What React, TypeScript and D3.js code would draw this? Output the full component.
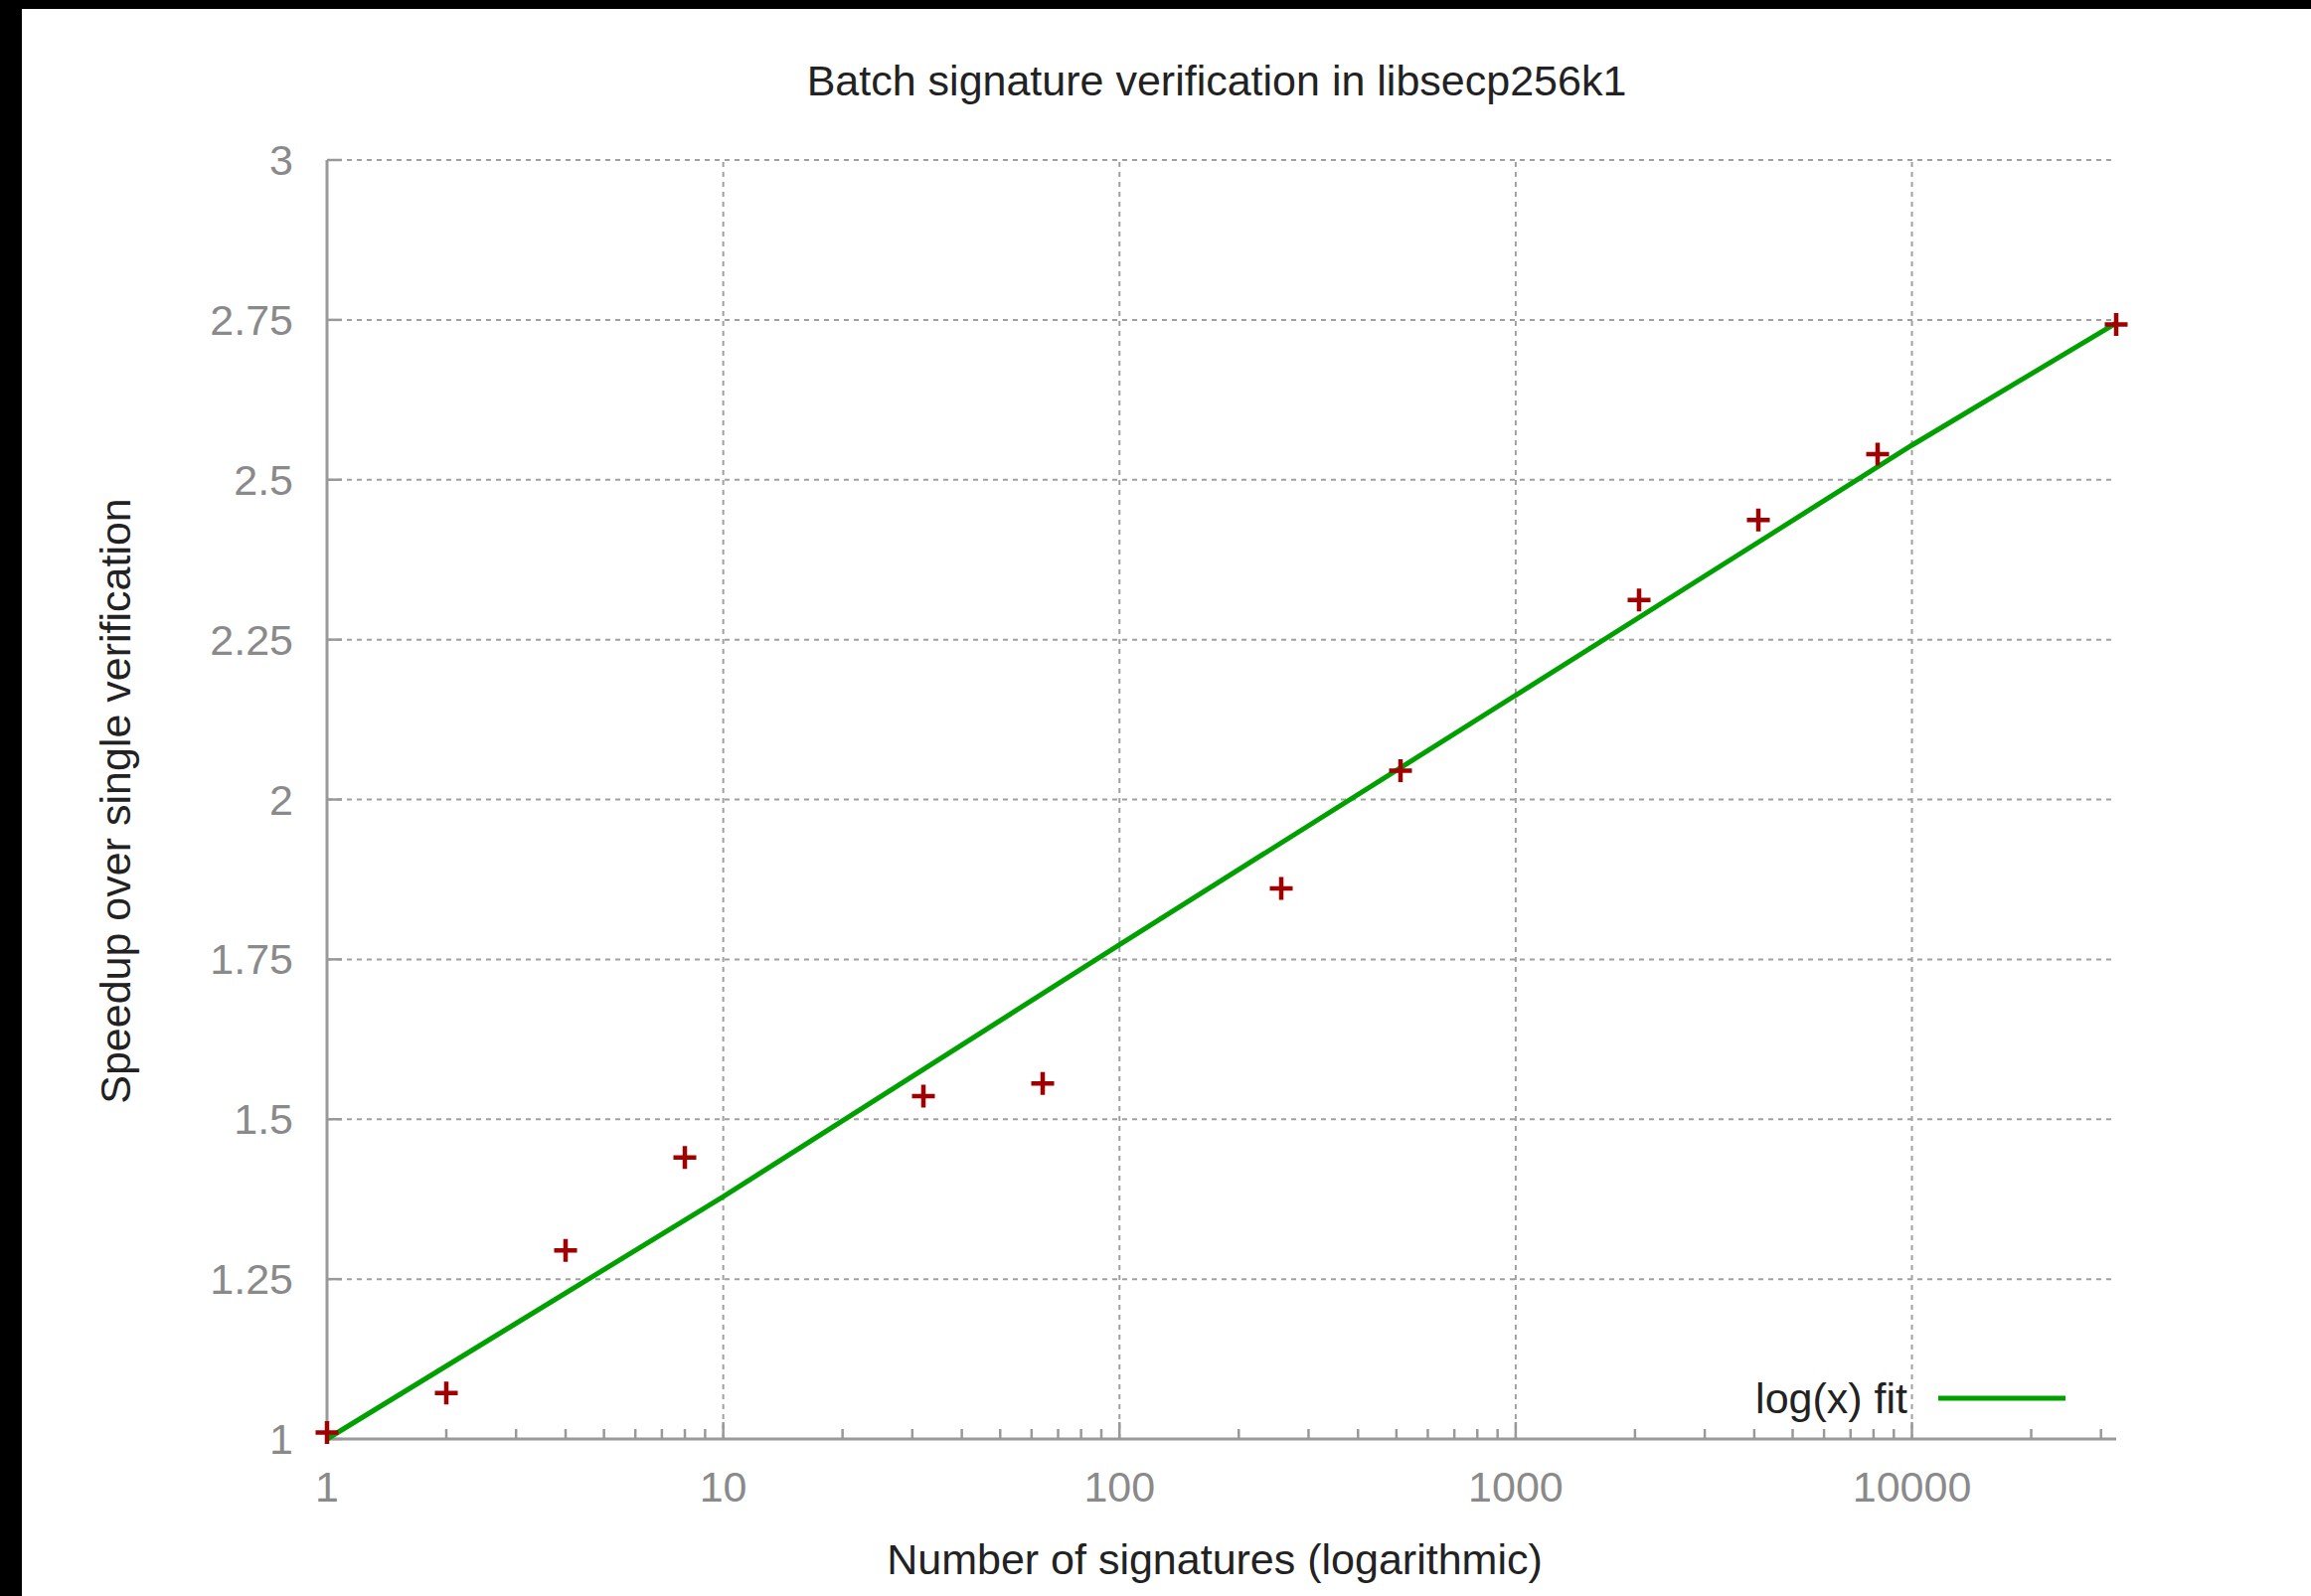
import React, { useEffect, useRef } from 'react';
import * as d3 from 'd3';

// measured points (number of signatures per batch -> speedup)
const batchSizes = [1, 2, 4, 8, 32, 64, 256, 512, 2048, 4096, 8192, 32768];
const speedups = [1.01, 1.072, 1.295, 1.44, 1.536, 1.556, 1.861, 2.045, 2.312, 2.437, 2.54, 2.743];

// log(x) fit at a few x positions
const fitSizes = [1, 10, 100, 1000, 10000, 32768];
const fitValues = [1.0, 1.379, 1.773, 2.163, 2.554, 2.745];

const xTickValues = [1, 10, 100, 1000, 10000];
const yTickValues = [1, 1.25, 1.5, 1.75, 2, 2.25, 2.5, 2.75, 3];

const W = 2325;
const H = 1606;
const FONT = '"Liberation Sans", Arial, sans-serif';

function App() {
  const ref = useRef<SVGSVGElement>(null);

  useEffect(() => {
    const svg = d3.select(ref.current);
    svg.selectAll('*').remove();

    const left = 329, right = 2129, top = 161, bottom = 1448;

    const x = d3.scaleLog().domain([1, 32768]).range([left, right]);
    const y = d3.scaleLinear().domain([1, 3]).range([bottom, top]);

    svg.append('rect').attr('width', W).attr('height', H).attr('fill', '#fff');
    // black frame on top and left edges of the screenshot
    svg.append('rect').attr('width', W).attr('height', 9).attr('fill', '#000');
    svg.append('rect').attr('width', 22).attr('height', H).attr('fill', '#000');

    const grid = svg.append('g')
      .attr('stroke', '#a0a0a0')
      .attr('stroke-width', 2)
      .attr('stroke-dasharray', '5,5');

    grid.selectAll('.hgrid')
      .data(yTickValues.filter((d) => d !== 1))
      .enter().append('line')
      .attr('x1', left).attr('x2', right)
      .attr('y1', (d) => y(d)).attr('y2', (d) => y(d));

    grid.selectAll('.vgrid')
      .data(xTickValues.filter((d) => d !== 1))
      .enter().append('line')
      .attr('x1', (d) => x(d)).attr('x2', (d) => x(d))
      .attr('y1', bottom).attr('y2', top);

    const axes = svg.append('g').attr('stroke', '#999').attr('stroke-width', 3);
    axes.append('line').attr('x1', left).attr('x2', right).attr('y1', bottom).attr('y2', bottom);
    axes.append('line').attr('x1', left).attr('x2', left).attr('y1', bottom).attr('y2', top);

    // y major ticks
    axes.selectAll('.ytick')
      .data(yTickValues)
      .enter().append('line')
      .attr('stroke-width', 2.5)
      .attr('x1', left).attr('x2', left + 15)
      .attr('y1', (d) => y(d)).attr('y2', (d) => y(d));

    // x major and minor ticks
    const minor = x.ticks().filter((d) => !xTickValues.includes(d));
    axes.selectAll('.xminor')
      .data(minor)
      .enter().append('line')
      .attr('stroke-width', 2.5)
      .attr('x1', (d) => x(d)).attr('x2', (d) => x(d))
      .attr('y1', bottom).attr('y2', bottom - 10);
    axes.selectAll('.xmajor')
      .data(xTickValues)
      .enter().append('line')
      .attr('stroke-width', 2.5)
      .attr('x1', (d) => x(d)).attr('x2', (d) => x(d))
      .attr('y1', bottom).attr('y2', bottom - 17);

    const labels = svg.append('g')
      .attr('font-family', FONT)
      .attr('font-size', 43)
      .attr('fill', '#8a8a8a');

    labels.selectAll('.ylab')
      .data(yTickValues)
      .enter().append('text')
      .attr('x', 295)
      .attr('y', (d) => y(d))
      .attr('dy', '0.35em')
      .attr('text-anchor', 'end')
      .text((d) => String(d));

    labels.selectAll('.xlab')
      .data(xTickValues)
      .enter().append('text')
      .attr('x', (d) => x(d))
      .attr('y', 1496)
      .attr('dy', '0.35em')
      .attr('text-anchor', 'middle')
      .text((d) => String(d));

    // fit line
    const line = d3.line<number>()
      .x((d, i) => x(fitSizes[i]))
      .y((d) => y(d));
    svg.append('path')
      .datum(fitValues)
      .attr('fill', 'none')
      .attr('stroke', '#00a000')
      .attr('stroke-width', 5)
      .attr('d', line);

    // measured points as "+"
    const s = 11.5;
    svg.append('g')
      .selectAll('path')
      .data(speedups)
      .enter().append('path')
      .attr('fill', 'none')
      .attr('stroke', '#a00000')
      .attr('stroke-width', 4.5)
      .attr('d', (d, i) => {
        const cx = x(batchSizes[i]);
        const cy = y(d);
        return `M${cx - s},${cy}H${cx + s}M${cx},${cy - s}V${cy + s}`;
      });

    // legend
    svg.append('text')
      .attr('x', 1919).attr('y', 1407).attr('dy', '0.35em')
      .attr('text-anchor', 'end')
      .attr('font-family', FONT).attr('font-size', 43).attr('fill', '#222')
      .text('log(x) fit');
    svg.append('line')
      .attr('x1', 1950).attr('x2', 2078).attr('y1', 1407).attr('y2', 1407)
      .attr('stroke', '#00a000').attr('stroke-width', 5);

    const dark = svg.append('g')
      .attr('font-family', FONT)
      .attr('font-size', 43)
      .attr('fill', '#222')
      .attr('text-anchor', 'middle');

    dark.append('text')
      .attr('x', 1224).attr('y', 81).attr('dy', '0.35em')
      .text('Batch signature verification in libsecp256k1');
    dark.append('text')
      .attr('x', 1222).attr('y', 1569).attr('dy', '0.35em')
      .text('Number of signatures (logarithmic)');
    dark.append('text')
      .attr('transform', 'translate(116,806) rotate(-90)')
      .attr('dy', '0.35em')
      .text('Speedup over single verification');
  }, []);

  return (
    <svg
      ref={ref}
      width={W}
      height={H}
      style={{ position: 'absolute', left: 0, top: 0, display: 'block' }}
    />
  );
}

export default App;
